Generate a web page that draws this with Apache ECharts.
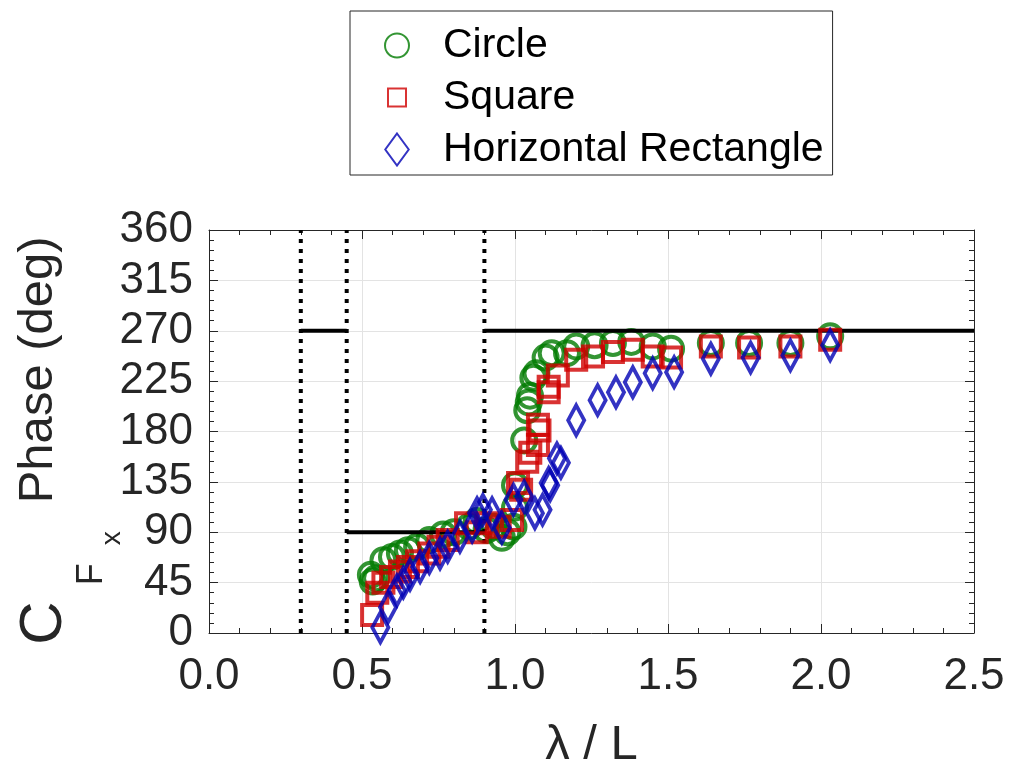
<!DOCTYPE html>
<html><head><meta charset="utf-8">
<script src="https://cdn.jsdelivr.net/npm/echarts@6/dist/echarts.min.js"></script>
<style>html,body{margin:0;padding:0;background:#fff}#c{width:1011px;height:769px}</style>
</head><body><div id="c"></div>
<script>
const xRange = [0, 2.5];
const yRange = [0, 360];
const xInterval = 0.5;
const yInterval = 45;
const seriesNames = ['Circle', 'Square', 'Horizontal Rectangle'];
const circleData = [[0.529,52],[0.535,46],[0.546,49],[0.57,65],[0.598,68],[0.624,71],[0.65,74],[0.68,77],[0.72,83],[0.765,88],[0.80,90],[0.85,95],[0.875,100],[0.907,92],[0.93,95],[0.957,85],[0.975,90],[0.995,95],[1.0,112],[1.0,132],[1.03,172],[1.04,199],[1.045,206],[1.049,212],[1.06,228],[1.07,232],[1.10,246],[1.12,250],[1.17,250],[1.20,256],[1.26,257],[1.32,259],[1.38,260],[1.45,256],[1.51,254],[1.64,259],[1.765,259],[1.90,259],[2.03,265]];
const squareData = [[0.533,16],[0.55,36],[0.57,45],[0.595,50],[0.624,55],[0.65,59],[0.68,64],[0.72,71],[0.75,77],[0.78,83],[0.84,98],[0.875,90],[0.91,98],[0.95,95],[0.99,101],[1.01,134],[1.02,128],[1.04,153],[1.05,161],[1.075,168],[1.075,186],[1.08,181],[1.11,215],[1.11,220],[1.14,230],[1.20,244],[1.255,247],[1.32,251],[1.385,253],[1.45,247],[1.51,246],[1.64,256],[1.765,255],[1.90,256],[2.03,262]];
const diamondData = [[0.56,5],[0.585,23],[0.614,38],[0.635,45],[0.657,52],[0.69,59],[0.72,67],[0.755,71],[0.78,77],[0.82,86],[0.86,95],[0.876,107],[0.895,110],[0.925,107],[0.957,94],[0.995,119],[1.03,122],[1.065,107],[1.09,110],[1.11,134],[1.115,132],[1.137,156],[1.15,152],[1.20,190],[1.27,208],[1.33,215],[1.385,224],[1.45,232],[1.52,233],[1.64,245],[1.77,246],[1.90,248],[2.03,257]];
const phaseLine1 = [[0.30,270],[0.45,270]];
const phaseLine2 = [[0.45,90],[0.90,90]];
const phaseLine3 = [[0.90,270],[2.5,270]];
const dottedX = [0.30, 0.45, 0.90];

const FONT = "'Liberation Sans', Arial, Helvetica, sans-serif";
const AX = '#262626';
const DIAMOND = 'path://M11,0L22,15L11,30L0,15Z';
const SQUARE_ICON = 'path://M0,0L0,0M24,32L24,32M3,7L21,7L21,25L3,25Z';
const chart = echarts.init(document.getElementById('c'), null, {renderer: 'canvas'});

function axisCommon(showLabel) {
  return {
    axisLine: {show: true, onZero: false, lineStyle: {color: AX, width: 1}},
    axisTick: {show: true, inside: true, length: 9, lineStyle: {color: AX, width: 1}},
    minorTick: {show: true, splitNumber: 5, length: 5, lineStyle: {color: AX, width: 1}},
    splitLine: {show: false},
    axisLabel: {show: showLabel}
  };
}

const series = [];
series.push({name: seriesNames[0], type: 'scatter', data: circleData, symbol: 'circle', symbolSize: 24, z: 3,
  itemStyle: {color: 'rgba(0,0,0,0)', borderColor: '#007a00', borderWidth: 4}});
[phaseLine1, phaseLine2, phaseLine3].forEach(d => series.push({type: 'line', data: d, symbol: 'none', z: 4,
  lineStyle: {color: '#000', width: 4}}));
dottedX.forEach(x => series.push({type: 'line', data: [[x, yRange[0]], [x, yRange[1]]], symbol: 'none', z: 4,
  lineStyle: {color: '#000', width: 4, type: [4, 6], cap: 'butt'}}));
series.push({name: seriesNames[1], type: 'scatter', data: squareData, symbol: 'rect', symbolSize: 20, z: 5,
  itemStyle: {color: 'rgba(0,0,0,0)', borderColor: '#d00000', borderWidth: 4}});
series.push({name: seriesNames[2], type: 'scatter', data: diamondData, symbol: DIAMOND, symbolSize: [22, 30],
  symbolKeepAspect: true, z: 6,
  itemStyle: {color: 'rgba(0,0,0,0)', borderColor: '#0000b4', borderWidth: 4}});

chart.setOption({
  animation: false,
  backgroundColor: '#fff',
  textStyle: {fontFamily: FONT},
  grid: {left: 209, top: 230, width: 765, height: 403, show: true, borderColor: AX, borderWidth: 0,
    containLabel: false, outerBoundsMode: 'none'},
  legend: {
    data: [{name: seriesNames[0], icon: 'circle'}, {name: seriesNames[1], icon: SQUARE_ICON}, {name: seriesNames[2], icon: DIAMOND}],
    orient: 'vertical', left: 350, top: 11, width: 482,
    padding: [14, 9, 5, 34], itemGap: 11, itemWidth: 24, itemHeight: 32, symbolKeepAspect: true,
    borderColor: '#262626', borderWidth: 1, backgroundColor: '#fff',
    textStyle: {fontSize: 41, color: '#000', fontFamily: FONT, padding: [0, 0, 0, 29]}
  },
  xAxis: [
    Object.assign(axisCommon(true), {
      type: 'value', min: xRange[0], max: xRange[1], interval: xInterval, position: 'bottom',
      axisLabel: {show: true, fontSize: 44, color: AX, margin: 22, formatter: v => v.toFixed(1)},
      splitLine: {show: true, lineStyle: {color: '#e3e3e3', width: 1}},
      name: 'λ / L', nameLocation: 'middle', nameGap: 88, nameMoveOverlap: false,
      nameTextStyle: {fontSize: 49, color: AX, fontFamily: FONT}
    }),
    Object.assign(axisCommon(false), {type: 'value', min: xRange[0], max: xRange[1], interval: xInterval, position: 'top'})
  ],
  yAxis: [
    Object.assign(axisCommon(true), {
      type: 'value', min: yRange[0], max: yRange[1], interval: yInterval, position: 'left',
      axisLabel: {show: true, fontSize: 44, color: AX, margin: 16},
      splitLine: {show: true, lineStyle: {color: '#e3e3e3', width: 1}},
      name: '{c|C}{f|F}{x|x}{s|Phase (deg)}', nameLocation: 'middle', nameGap: 135, nameMoveOverlap: false,
      nameTextStyle: {color: AX, fontFamily: FONT, rich: {
        c: {fontSize: 60, lineHeight: 60, verticalAlign: 'top', color: AX},
        f: {fontSize: 36, lineHeight: 36, verticalAlign: 'top', padding: [60, 0, 0, 16], color: AX},
        x: {fontSize: 28, lineHeight: 28, verticalAlign: 'top', padding: [84, 0, 0, 18], color: AX},
        s: {fontSize: 49, lineHeight: 60, verticalAlign: 'top', padding: [0, 18, 0, 28], color: AX}
      }}
    }),
    Object.assign(axisCommon(false), {type: 'value', min: yRange[0], max: yRange[1], interval: yInterval, position: 'right'})
  ],
  series: series
});
</script></body></html>
